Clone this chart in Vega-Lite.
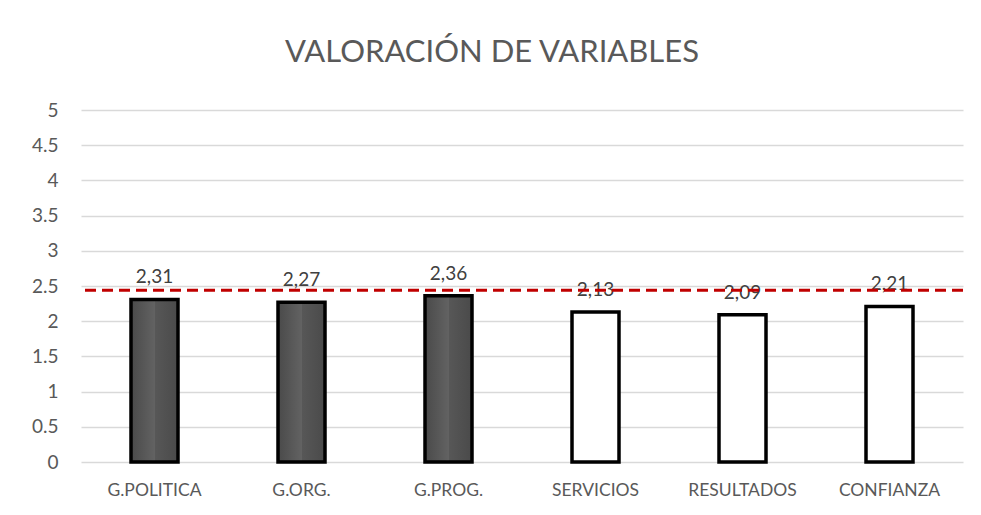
{
  "$schema": "https://vega.github.io/schema/vega-lite/v6.json",
  "autosize": "none",
  "width": 882,
  "height": 352,
  "padding": {"left": 81, "top": 110, "right": 18, "bottom": 53},
  "background": "white",
  "title": {
    "text": "VALORACIÓN DE VARIABLES",
    "font": "Lato",
    "fontSize": 31,
    "fontWeight": "normal",
    "color": "#595959",
    "dx": -30,
    "offset": 32
  },
  "datasets": {
    "bars": [
      {"variable": "G.POLITICA", "valor": 2.31, "grupo": "gestion"},
      {"variable": "G.ORG.", "valor": 2.27, "grupo": "gestion"},
      {"variable": "G.PROG.", "valor": 2.36, "grupo": "gestion"},
      {"variable": "SERVICIOS", "valor": 2.13, "grupo": "otros"},
      {"variable": "RESULTADOS", "valor": 2.09, "grupo": "otros"},
      {"variable": "CONFIANZA", "valor": 2.21, "grupo": "otros"}
    ],
    "ref": [{"valor": 2.44}]
  },
  "encoding": {
    "y": {
      "field": "valor",
      "type": "quantitative",
      "scale": {"domain": [0, 5]},
      "axis": {
        "title": null,
        "values": [0, 0.5, 1, 1.5, 2, 2.5, 3, 3.5, 4, 4.5, 5],
        "format": ".1~f",
        "labelOverlap": false,
        "domain": false,
        "ticks": false,
        "labelFont": "Lato",
        "labelFontSize": 19,
        "labelColor": "#595959",
        "labelPadding": 23,
        "gridColor": "#d9d9d9",
        "gridWidth": 1.5
      }
    }
  },
  "layer": [
    {
      "data": {"name": "bars"},
      "mark": {"type": "bar", "stroke": "black", "strokeWidth": 3.5, "width": 47},
      "encoding": {
        "x": {
          "field": "variable",
          "type": "nominal",
          "sort": null,
          "scale": {"paddingInner": 0.66, "paddingOuter": 0.33},
          "axis": {
            "title": null,
            "domain": false,
            "ticks": false,
            "labelAngle": 0,
            "labelFont": "Lato",
            "labelFontSize": 17.5,
            "labelColor": "#595959",
            "labelPadding": 19
          }
        },
        "fill": {
          "condition": {
            "test": "datum.grupo === 'gestion'",
            "value": {
              "x1": 0, "y1": 0, "x2": 1, "y2": 0,
              "gradient": "linear",
              "stops": [
                {"offset": 0, "color": "#4a4a4a"},
                {"offset": 0.5, "color": "#626262"},
                {"offset": 0.52, "color": "#575757"},
                {"offset": 1, "color": "#4a4a4a"}
              ]
            }
          },
          "value": "#ffffff"
        }
      }
    },
    {
      "data": {"name": "bars"},
      "transform": [
        {"calculate": "replace(format(datum.valor, '.2f'), '.', ',')", "as": "etiqueta"}
      ],
      "mark": {
        "type": "text",
        "font": "Lato",
        "fontSize": 19,
        "color": "#404040",
        "baseline": "alphabetic",
        "dy": -16
      },
      "encoding": {
        "x": {"field": "variable", "type": "nominal", "sort": null},
        "text": {"field": "etiqueta", "type": "nominal"}
      }
    },
    {
      "data": {"name": "ref"},
      "mark": {"type": "rule", "color": "#c00000", "strokeWidth": 3, "strokeDash": [11, 6]},
      "encoding": {}
    }
  ],
  "config": {
    "view": {"stroke": null}
  }
}
